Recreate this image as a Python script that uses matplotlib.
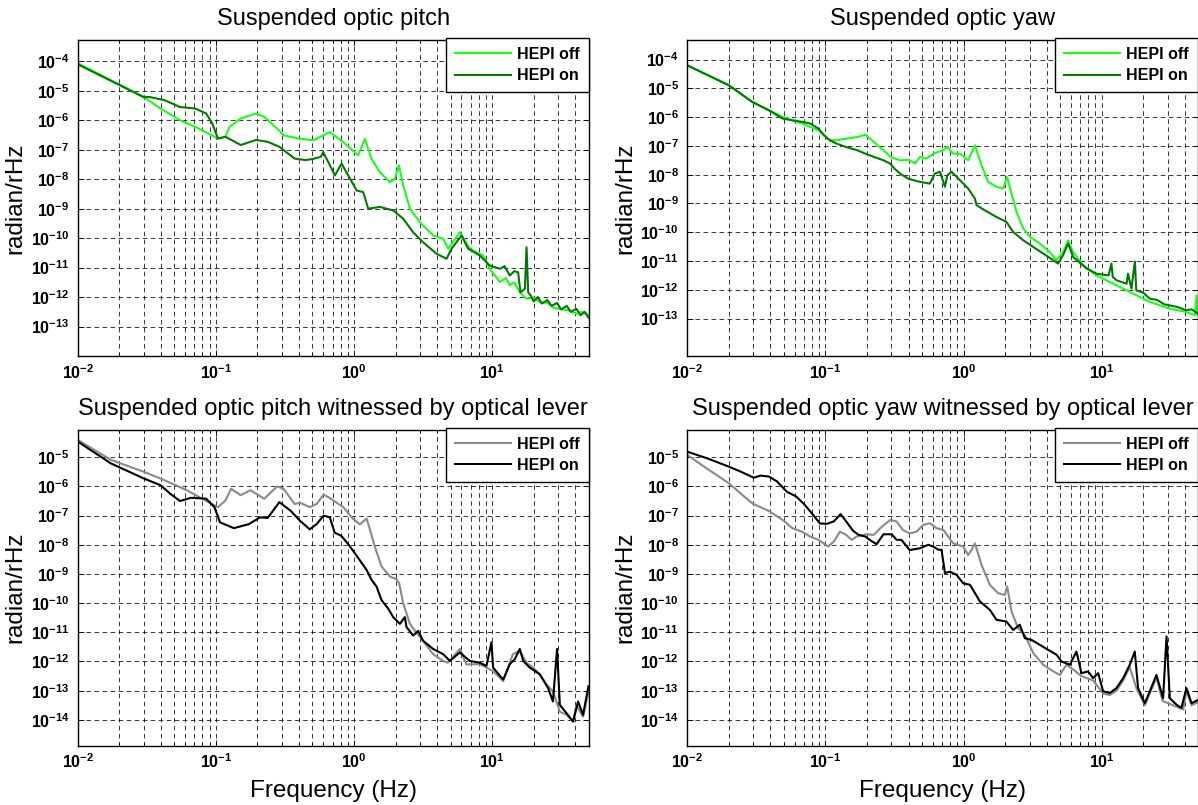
import numpy as np
import matplotlib
matplotlib.use("Agg")
import matplotlib.pyplot as plt
from matplotlib.ticker import LogLocator, NullLocator, NullFormatter

plt.rcParams['font.family'] = ['Liberation Sans', 'DejaVu Sans']
plt.rcParams['mathtext.fontset'] = 'custom'
plt.rcParams['mathtext.rm'] = 'Liberation Sans'
plt.rcParams['mathtext.bf'] = 'Liberation Sans:bold'
plt.rcParams['mathtext.default'] = 'bf'

# values, as log10(frequency / Hz) and log10(radian/rHz)
pitch_off_logf = [-2.0, -1.76, -1.524, -1.40, -1.26, -1.15, -1.054, -0.985, -0.93, -0.90, -0.82, -0.71,
                  -0.65, -0.57, -0.51, -0.40, -0.295, -0.174, -0.078, 0.030, 0.079, 0.127, 0.187, 0.26,
                  0.296, 0.325, 0.356, 0.405, 0.477, 0.573, 0.646, 0.682, 0.766, 0.839, 0.935, 0.983,
                  1.056, 1.10, 1.128, 1.16, 1.2, 1.249, 1.30, 1.345, 1.40, 1.45, 1.489, 1.55, 1.61, 1.65, 1.698]
pitch_off_logv = [-4.06, -4.64, -5.21, -5.60, -6.0, -6.22, -6.45, -6.62, -6.56, -6.22, -5.94, -5.77,
                  -5.88, -6.22, -6.51, -6.62, -6.68, -6.40, -6.74, -7.19, -6.63, -7.31, -7.76, -8.10,
                  -7.99, -7.53, -8.21, -9.00, -9.46, -9.91, -10.02, -10.36, -9.80, -10.36, -10.59, -11.04,
                  -11.49, -11.35, -11.6, -11.5, -11.84, -12.06, -12.02, -12.17, -12.2, -12.38, -12.40, -12.45, -12.57, -12.5, -12.62]

pitch_on_logf = [-2.0, -1.76, -1.524, -1.48, -1.37, -1.26, -1.15, -1.07, -1.026, -0.985, -0.93, -0.82,
                 -0.71, -0.625, -0.54, -0.43, -0.35, -0.295, -0.24, -0.223, -0.186, -0.138, -0.09, -0.042,
                 0.019, 0.067, 0.103, 0.187, 0.284, 0.356, 0.428, 0.5, 0.598, 0.67, 0.706, 0.778, 0.826,
                 0.911, 0.983, 1.056, 1.09, 1.128, 1.16, 1.188, 1.205, 1.237, 1.249, 1.261, 1.28, 1.30,
                 1.33, 1.36, 1.40, 1.43, 1.47, 1.50, 1.54, 1.57, 1.61, 1.64, 1.67, 1.698]
pitch_on_logv = [-4.10, -4.66, -5.21, -5.21, -5.32, -5.55, -5.60, -5.77, -6.11, -6.62, -6.56, -6.84,
                 -6.67, -6.73, -6.90, -7.30, -7.35, -7.31, -7.24, -7.08, -7.42, -7.87, -7.47, -7.87,
                 -8.38, -8.44, -9.00, -8.94, -9.06, -9.34, -9.80, -10.14, -10.53, -10.70, -10.36, -9.91, -10.36,
                 -10.59, -10.93, -11.04, -10.95, -11.27, -11.12, -11.16, -11.84, -11.72, -10.31, -11.84, -11.95, -12.15,
                 -12.0, -12.22, -12.1, -12.3, -12.2, -12.42, -12.3, -12.5, -12.4, -12.62, -12.5, -12.7]

yaw_off_logf = [-2.0, -1.70, -1.53, -1.41, -1.31, -1.24, -1.17, -1.11, -1.05, -1.01, -0.97, -0.92,
                -0.85, -0.77, -0.71, -0.65, -0.58, -0.53, -0.46, -0.40, -0.35, -0.316, -0.268, -0.22,
                -0.148, -0.12, -0.075, -0.027, 0.033, 0.082, 0.13, 0.178, 0.238, 0.287, 0.315, 0.347,
                0.383, 0.432, 0.48, 0.552, 0.624, 0.672, 0.72, 0.757, 0.793, 0.866, 0.962, 1.058,
                1.155, 1.25, 1.348, 1.49, 1.61, 1.674, 1.686, 1.69, 1.698]
yaw_off_logv = [-4.20, -4.89, -5.47, -5.76, -5.99, -6.11, -6.22, -6.34, -6.46, -6.63, -6.80, -6.80,
                -6.75, -6.69, -6.61, -6.86, -7.15, -7.38, -7.50, -7.48, -7.61, -7.38, -7.44, -7.27,
                -7.15, -7.03, -7.27, -7.27, -7.50, -6.98, -7.67, -8.25, -8.42, -8.48, -8.08, -8.66,
                -9.30, -9.87, -10.16, -10.39, -10.69, -10.97, -10.69, -10.28, -10.69, -11.15, -11.50, -11.73,
                -11.96, -12.19, -12.42, -12.65, -12.77, -12.88, -12.2, -12.85, -12.9]

yaw_on_logf = [-2.0, -1.70, -1.53, -1.41, -1.31, -1.24, -1.17, -1.11, -1.05, -1.01, -0.97, -0.92,
               -0.85, -0.77, -0.71, -0.65, -0.58, -0.53, -0.50, -0.46, -0.40, -0.316, -0.244, -0.208,
               -0.171, -0.135, -0.118, -0.087, -0.027, 0.033, 0.082, 0.094, 0.154, 0.238, 0.31, 0.359,
               0.432, 0.504, 0.576, 0.648, 0.684, 0.72, 0.757, 0.793, 0.89, 0.962, 1.05, 1.07, 1.08,
               1.107, 1.18, 1.19, 1.215, 1.24, 1.25, 1.30, 1.348, 1.40, 1.45, 1.49, 1.55, 1.61, 1.65, 1.698]
yaw_on_logv = [-4.20, -4.89, -5.47, -5.76, -6.05, -6.11, -6.16, -6.22, -6.40, -6.63, -6.80, -6.92,
               -7.04, -7.15, -7.27, -7.38, -7.50, -7.62, -7.79, -7.96, -8.14, -8.25, -8.31, -7.96,
               -7.90, -8.42, -8.02, -7.90, -8.19, -8.48, -8.83, -9.06, -9.24, -9.47, -9.64, -9.99,
               -10.28, -10.51, -10.74, -10.97, -11.09, -10.80, -10.39, -10.86, -11.26, -11.44, -11.5, -11.09, -11.55,
               -11.67, -11.79, -11.44, -11.96, -11.02, -12.02, -12.1, -12.31, -12.35, -12.5, -12.54, -12.6, -12.71, -12.68, -12.83]

olpit_off_logf = [-2.0, -1.76, -1.52, -1.40, -1.21, -1.10, -0.985, -0.93, -0.89, -0.82, -0.75, -0.65,
                  -0.556, -0.51, -0.43, -0.39, -0.32, -0.27, -0.22, -0.185, -0.15, -0.078, -0.005, 0.043,
                  0.091, 0.115, 0.15, 0.199, 0.26, 0.308, 0.327, 0.356, 0.404, 0.44, 0.5, 0.573, 0.646,
                  0.68, 0.766, 0.814, 0.91, 1.007, 1.08, 1.15, 1.2, 1.25, 1.297, 1.345, 1.393, 1.44, 1.49,
                  1.54, 1.586, 1.61, 1.658, 1.71]
olpit_off_logv = [-4.40, -5.09, -5.50, -5.73, -6.13, -6.42, -6.71, -6.48, -6.08, -6.30, -6.13, -6.42,
                  -6.0, -6.08, -6.60, -6.56, -6.71, -6.60, -6.28, -6.37, -6.48, -6.71, -7.12, -7.30,
                  -7.10, -7.47, -8.05, -8.74, -9.09, -9.18, -9.32, -10.0, -10.70, -10.94, -11.29, -11.75, -11.98,
                  -12.04, -11.57, -12.1, -12.09, -12.33, -12.67, -11.75, -11.64, -12.05, -12.21, -12.44, -12.79, -13.02, -13.72,
                  -13.83, -14.06, -13.5, -13.89, -12.79]

olpit_on_logf = [-2.0, -1.76, -1.52, -1.40, -1.33, -1.26, -1.18, -1.07, -1.01, -0.97, -0.87, -0.76,
                 -0.68, -0.625, -0.54, -0.46, -0.39, -0.32, -0.27, -0.22, -0.175, -0.14, -0.09, -0.03,
                 0.03, 0.091, 0.127, 0.163, 0.2, 0.248, 0.284, 0.332, 0.368, 0.38, 0.428, 0.465, 0.5,
                 0.573, 0.646, 0.694, 0.766, 0.838, 0.91, 0.959, 0.995, 1.007, 1.08, 1.128, 1.164, 1.2,
                 1.225, 1.27, 1.345, 1.405, 1.44, 1.47, 1.49, 1.54, 1.586, 1.622, 1.658, 1.697]
olpit_on_logv = [-4.46, -5.21, -5.73, -5.96, -6.25, -6.50, -6.39, -6.42, -6.71, -7.23, -7.43, -7.29,
                 -7.06, -7.08, -6.54, -6.83, -7.18, -7.47, -7.29, -7.0, -7.06, -7.58, -7.70, -8.05,
                 -8.45, -8.86, -9.20, -9.43, -9.90, -10.19, -10.48, -10.71, -10.48, -10.82, -11.11, -10.95, -11.29,
                 -11.57, -11.75, -11.98, -11.69, -11.98, -12.04, -12.15, -11.34, -12.21, -12.62, -12.09, -11.92, -11.57,
                 -11.98, -12.2, -12.44, -12.91, -13.37, -11.57, -13.49, -13.78, -14.06, -13.37, -13.83, -12.85]

olyaw_off_logf = [-2.0, -1.86, -1.70, -1.53, -1.41, -1.31, -1.24, -1.17, -1.11, -1.05, -0.98, -0.94,
                  -0.895, -0.85, -0.81, -0.775, -0.71, -0.65, -0.59, -0.53, -0.485, -0.44, -0.39, -0.34,
                  -0.292, -0.243, -0.196, -0.147, -0.075, -0.003, 0.033, 0.057, 0.082, 0.13, 0.19, 0.25,
                  0.299, 0.316, 0.347, 0.395, 0.443, 0.504, 0.576, 0.649, 0.697, 0.745, 0.80, 0.853,
                  0.938, 1.01, 1.058, 1.107, 1.155, 1.203, 1.25, 1.312, 1.396, 1.44, 1.541, 1.59, 1.613, 1.65, 1.695]
olyaw_off_logv = [-4.92, -5.38, -5.89, -6.58, -6.84, -7.15, -7.43, -7.55, -7.72, -7.83, -8.06, -7.89,
                  -7.55, -7.66, -7.83, -7.72, -7.64, -7.66, -7.37, -7.15, -7.2, -7.49, -7.61, -7.55,
                  -7.32, -7.26, -7.43, -7.49, -7.95, -8.06, -8.35, -8.18, -7.95, -8.69, -9.37, -9.66,
                  -9.72, -9.43, -10.29, -10.86, -11.09, -11.71, -12.11, -12.34, -12.46, -12.11, -12.3, -12.5,
                  -12.65, -13.1, -13.15, -13.0, -12.65, -12.2, -12.9, -13.5, -12.55, -13.35, -13.55, -13.65, -13.0, -13.5, -13.4]

olyaw_on_logf = [-2.0, -1.86, -1.70, -1.61, -1.52, -1.47, -1.41, -1.35, -1.28, -1.21, -1.15, -1.09,
                 -1.04, -0.99, -0.94, -0.89, -0.85, -0.80, -0.76, -0.71, -0.68, -0.63, -0.58, -0.52,
                 -0.485, -0.45, -0.39, -0.316, -0.256, -0.22, -0.183, -0.16, -0.135, -0.1, -0.051, -0.003,
                 0.046, 0.118, 0.19, 0.238, 0.31, 0.359, 0.407, 0.443, 0.492, 0.552, 0.612, 0.673, 0.709,
                 0.769, 0.817, 0.853, 0.901, 0.938, 0.974, 1.01, 1.058, 1.107, 1.155, 1.203, 1.239, 1.263,
                 1.312, 1.348, 1.396, 1.444, 1.469, 1.493, 1.541, 1.577, 1.613, 1.65, 1.695]
olyaw_on_logv = [-4.81, -5.03, -5.32, -5.50, -5.70, -5.63, -5.66, -5.83, -6.18, -6.35, -6.63, -6.97,
                 -7.27, -7.28, -7.20, -6.95, -7.2, -7.52, -7.66, -7.72, -7.83, -7.98, -7.64, -7.64,
                 -7.83, -7.83, -8.18, -8.12, -8.0, -8.06, -8.17, -8.17, -8.97, -8.92, -9.03, -9.32,
                 -9.37, -9.94, -10.23, -10.57, -10.63, -10.92, -10.74, -11.20, -11.26, -11.43, -11.60, -11.77, -12.0,
                 -12.11, -11.66, -12.40, -12.34, -12.57, -12.4, -13.02, -13.08, -12.91, -12.57, -12.11, -11.66, -12.91,
                 -13.43, -13.02, -12.46, -13.26, -11.14, -13.26, -13.48, -13.59, -12.91, -13.43, -13.32]

labels = ['HEPI off', 'HEPI on']
green_cols = ['#19ff19', '#007a00']
gray_cols = ['#8a8a8a', '#000000']

W, H = 1198, 805
fig = plt.figure(figsize=(W / 100, H / 100), dpi=100)


def ax_at(left, top, width, height):
    return fig.add_axes([left / W, 1 - (top + height) / H, width / W, height / H])


def panel(ax, title, curves, cols, ylim, yexps, xlabel, leg_x):
    for (lf, lv), c, lab in zip(curves, cols, labels):
        ax.loglog(10 ** np.array(lf), 10 ** np.array(lv), color=c, lw=1.5, label=lab)
    ax.set_xlim(0.01, 50)
    ax.set_ylim(*ylim)
    ax.set_xticks([1e-2, 1e-1, 1, 10])
    ax.set_xticklabels([r'$10^{%d}$' % e for e in (-2, -1, 0, 1)])
    ax.xaxis.set_minor_locator(LogLocator(base=10, subs=range(2, 10), numticks=20))
    ax.xaxis.set_minor_formatter(NullFormatter())
    ax.set_yticks([10.0 ** e for e in yexps])
    ax.set_yticklabels([r'$10^{%d}$' % e for e in yexps])
    ax.yaxis.set_minor_locator(NullLocator())
    ax.grid(True, which='major', axis='both', color='k', lw=0.55, ls=(0, (6, 4.5)))
    ax.grid(True, which='minor', axis='x', color='k', lw=0.55, ls=(0, (6, 4.5)))
    ax.tick_params(which='both', direction='in', top=True, right=True, width=0.6, labelsize=11.5)
    ax.tick_params(which='major', length=4)
    ax.tick_params(which='minor', length=2)
    ax.tick_params(axis='y', pad=6)
    ax.tick_params(axis='x', pad=5)
    for s in ax.spines.values():
        s.set_linewidth(1.0)
    ax.set_title(title, fontsize=17, pad=10.5)
    ax.set_ylabel('radian/rHz', fontsize=17.5, labelpad=3)
    if xlabel:
        ax.set_xlabel('Frequency (Hz)', fontsize=17.5, labelpad=6)
    leg = ax.legend(loc='upper right', bbox_to_anchor=(leg_x, 1.006), borderaxespad=0,
                    fancybox=False, edgecolor='k', framealpha=1,
                    prop={'weight': 'bold', 'size': 11.5}, handlelength=3.5,
                    handletextpad=0.4, borderpad=0.55, labelspacing=0.4)
    leg.get_frame().set_linewidth(1.0)


ax1 = ax_at(77.7, 40, 511, 316)
ax2 = ax_at(687.3, 40, 511, 316)
ax3 = ax_at(77.7, 429.7, 511, 316)
ax4 = ax_at(687.3, 429.7, 511, 316)

panel(ax1, 'Suspended optic pitch', [(pitch_off_logf, pitch_off_logv), (pitch_on_logf, pitch_on_logv)],
      green_cols, (1e-14, 5.3e-4), range(-4, -14, -1), False, 1.0)
panel(ax2, 'Suspended optic yaw', [(yaw_off_logf, yaw_off_logv), (yaw_on_logf, yaw_on_logv)],
      green_cols, (5e-15, 4.8e-4), range(-4, -14, -1), False, 0.9985)
panel(ax3, 'Suspended optic pitch witnessed by optical lever',
      [(olpit_off_logf, olpit_off_logv), (olpit_on_logf, olpit_on_logv)],
      gray_cols, (1.3e-15, 8.8e-5), range(-5, -15, -1), True, 1.0)
panel(ax4, 'Suspended optic yaw witnessed by optical lever',
      [(olyaw_off_logf, olyaw_off_logv), (olyaw_on_logf, olyaw_on_logv)],
      gray_cols, (1.3e-15, 8.8e-5), range(-5, -15, -1), True, 0.9985)

fig.savefig('out.png', dpi=100)
